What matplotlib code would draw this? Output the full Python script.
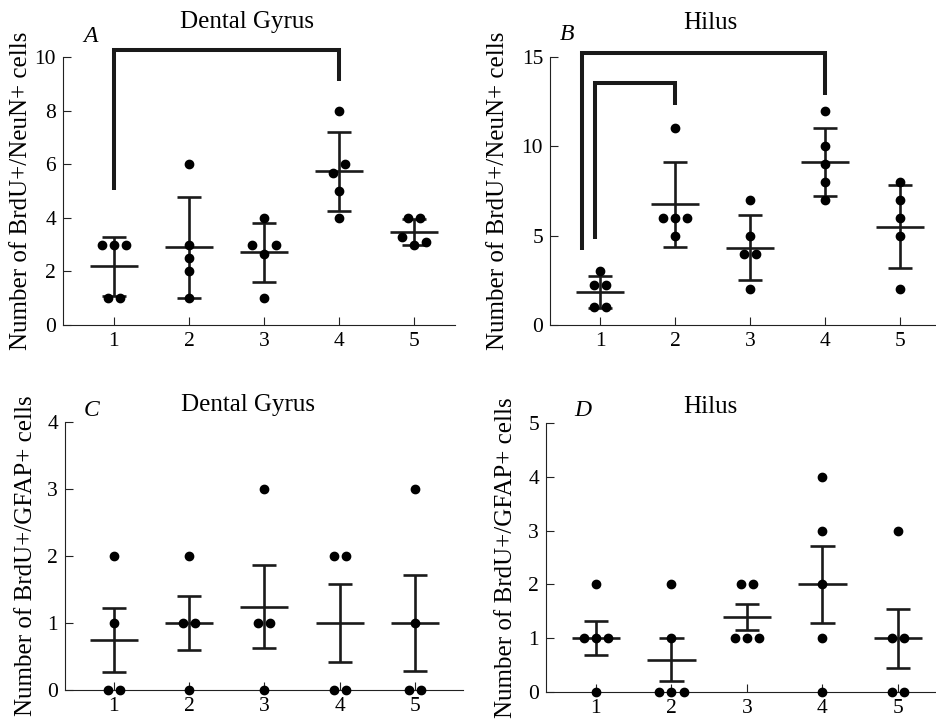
import numpy as np
import matplotlib
matplotlib.use('Agg')
import matplotlib.pyplot as plt

# группы на оси x
groups = [1, 2, 3, 4, 5]

# A: BrdU+/NeuN+, Dental Gyrus
a_points = [[3, 3, 3, 1, 1],
            [6, 3, 2.5, 2, 1],
            [4, 3, 2.65, 3, 1],
            [8, 5.67, 6, 5, 4],
            [4, 4, 3.3, 3, 3.1]]
a_mean = [2.2, 2.9, 2.72, 5.73, 3.48]
a_err = [1.1, 1.88, 1.1, 1.47, 0.48]

# B: BrdU+/NeuN+, Hilus
b_points = [[3, 2.24, 2.24, 1, 1],
            [11, 6, 6, 6, 5],
            [7, 5, 4, 4, 2],
            [12, 10, 9, 8, 7],
            [8, 7, 6, 5, 2]]
b_mean = [1.87, 6.76, 4.33, 9.13, 5.51]
b_err = [0.9, 2.37, 1.8, 1.92, 2.31]

# C: BrdU+/GFAP+, Dental Gyrus
c_points = [[2, 1, 0, 0],
            [2, 1, 1, 0],
            [3, 1, 1, 0],
            [2, 2, 0, 0],
            [3, 1, 0, 0]]
c_mean = [0.75, 1.0, 1.24, 1.0, 1.0]
c_err = [0.48, 0.41, 0.62, 0.58, 0.71]

# D: BrdU+/GFAP+, Hilus
d_points = [[2, 1, 1, 1, 0],
            [2, 1, 0, 0, 0],
            [2, 2, 1, 1, 1],
            [4, 3, 2, 1, 0],
            [3, 1, 1, 0, 0]]
d_mean = [1.0, 0.6, 1.4, 2.0, 1.0]
d_err = [0.32, 0.4, 0.24, 0.71, 0.55]

# скобки значимости: (x1, y1 низ, x2, y2 низ, y верх)
a_brackets = [(1, 5.05, 4, 9.1, 10.25)]
b_brackets = [(0.76, 4.2, 4, 12.9, 15.25),
              (0.94, 4.8, 2, 12.3, 13.55)]

W, H = 936, 721
plt.rcParams['font.family'] = ['Liberation Serif', 'DejaVu Serif']
plt.rcParams['font.size'] = 16

fig = plt.figure(figsize=(W / 100, H / 100), dpi=100)


def px_rect(l, t, r, b):
    return [l / W, 1 - b / H, (r - l) / W, (b - t) / H]


def offsets(vals, thr):
    # раздвигаем близкие точки в стороны
    vals = np.asarray(vals, dtype=float)
    idx = list(np.argsort(vals, kind='stable'))
    clusters = [[idx[0]]]
    for i in idx[1:]:
        if vals[i] - vals[clusters[-1][-1]] <= thr:
            clusters[-1].append(i)
        else:
            clusters.append([i])
    dx = np.zeros(len(vals))
    for cl in clusters:
        cl = sorted(cl)
        n = len(cl)
        for k, i in enumerate(cl):
            dx[i] = (k - (n - 1) / 2) * 0.16
    return dx


def panel(rect, points, mean, err, ymax, yticks, xlim, title, title_xy,
          letter, letter_xy, ylabel, ylab_x, brackets=()):
    ax = fig.add_axes(px_rect(*rect))
    for g, pts, m, e in zip(groups, points, mean, err):
        dx = offsets(pts, 0.045 * ymax)
        ax.plot([g, g], [m - e, m + e], color='#1a1a1a', lw=1.9, solid_capstyle='butt')
        ax.plot([g - 0.16, g + 0.16], [m + e, m + e], color='#1a1a1a', lw=1.9, solid_capstyle='butt')
        ax.plot([g - 0.16, g + 0.16], [m - e, m - e], color='#1a1a1a', lw=1.9, solid_capstyle='butt')
        ax.plot([g - 0.32, g + 0.32], [m, m], color='#1a1a1a', lw=1.9, solid_capstyle='butt')
        ax.plot(g + dx, pts, 'o', color='black', ms=6, clip_on=False, zorder=5)
    for x1, y1, x2, y2, yt in brackets:
        ax.plot([x1, x1, x2, x2], [y1, yt, yt, y2], color='#1a1a1a', lw=2.9,
                solid_joinstyle='miter', solid_capstyle='butt', clip_on=False)
    ax.set_xlim(*xlim)
    ax.set_ylim(0, ymax)
    ax.set_xticks(groups)
    ax.set_yticks(yticks)
    ax.spines[['top', 'right']].set_visible(False)
    for s in ['left', 'bottom']:
        ax.spines[s].set_linewidth(0.8)
        ax.spines[s].set_color('#222222')
    ax.tick_params(axis='both', direction='in', length=6, width=0.8, color='#222222', labelsize=15.5)
    ax.tick_params(axis='x', pad=5)
    ax.tick_params(axis='y', pad=5)
    ax.set_ylabel(ylabel, fontsize=18)
    ax.yaxis.set_label_coords(ylab_x, 0.5)
    fig.text(title_xy[0] / W, 1 - title_xy[1] / H, title, ha='center', va='center', fontsize=18)
    fig.text(letter_xy[0] / W, 1 - letter_xy[1] / H, letter, ha='center', va='center',
             fontsize=17, style='italic')
    return ax


panel((63, 57, 455, 325), a_points, a_mean, a_err, 10, [0, 2, 4, 6, 8, 10], (0.32, 5.55),
      'Dental Gyrus', (247, 22), 'A', (90, 37), 'Number of BrdU+/NeuN+ cells', -0.08,
      a_brackets)
panel((550, 57, 935, 325), b_points, b_mean, b_err, 15, [0, 5, 10, 15], (0.333, 5.47),
      'Hilus', (710, 23), 'B', (567, 35), 'Number of BrdU+/NeuN+ cells', -0.106,
      b_brackets)
panel((65, 422, 463, 690), c_points, c_mean, c_err, 4, [0, 1, 2, 3, 4], (0.35, 5.64),
      'Dental Gyrus', (248, 405), 'C', (92, 410), 'Number of BrdU+/GFAP+ cells', -0.07)
panel((546, 423, 935, 692), d_points, d_mean, d_err, 5, [0, 1, 2, 3, 4, 5], (0.338, 5.49),
      'Hilus', (710, 407), 'D', (583, 410), 'Number of BrdU+/GFAP+ cells', -0.074)

fig.savefig('out.png', dpi=100)
